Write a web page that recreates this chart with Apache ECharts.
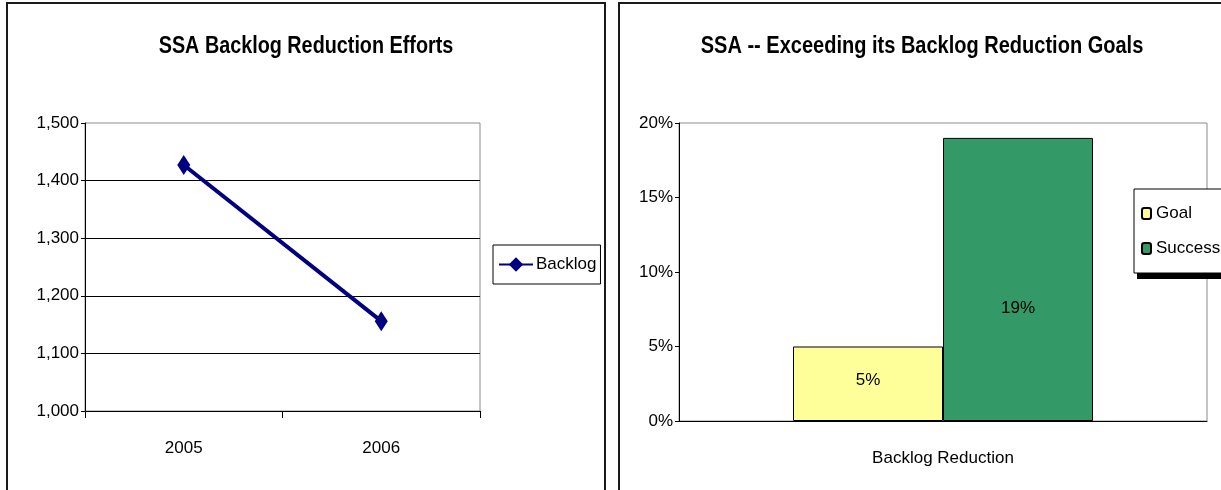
<!DOCTYPE html>
<html>
<head>
<meta charset="utf-8">
<script src="https://cdn.jsdelivr.net/npm/echarts@6/dist/echarts.min.js"></script>
<style>
  html, body { margin: 0; padding: 0; background: #fff; overflow: hidden; }
  #main { width: 1221px; height: 490px; }
</style>
</head>
<body>
<div id="main"></div>
<script>
// left chart: backlog line
var years = ['2005', '2006'];
var backlog = [1427, 1156];
// right chart: goal vs success
var reductionCats = ['Backlog Reduction'];
var goal = [5];
var success = [19];

var font = "'Liberation Sans Narrow', 'Arial Narrow', 'Liberation Sans', sans-serif";

var main = document.getElementById('main');
var myChart = echarts.init(main);

var option = {
    animation: false,
    textStyle: { fontFamily: font, color: '#000' },
    graphic: [
        { type: 'rect', shape: { x: 7, y: 3, width: 598, height: 520 }, style: { fill: 'none', stroke: '#1a1a1a', lineWidth: 2 } },
        { type: 'rect', shape: { x: 619, y: 3, width: 610, height: 520 }, style: { fill: 'none', stroke: '#1a1a1a', lineWidth: 2 } },
        // legend drop shadow (right chart)
        { type: 'rect', shape: { x: 1137, y: 200, width: 100, height: 79 }, style: { fill: '#000' } },
        { type: 'text', x: 306, y: 47, scaleX: 0.86, style: { text: 'SSA Backlog Reduction Efforts', font: 'bold 23px ' + font, fill: '#000', align: 'center', verticalAlign: 'middle' } },
        { type: 'text', x: 922, y: 47, scaleX: 0.87, style: { text: 'SSA -- Exceeding its Backlog Reduction Goals', font: 'bold 23px ' + font, fill: '#000', align: 'center', verticalAlign: 'middle' } }
    ],
    legend: [
        {
            data: ['Backlog'],
            left: 493, top: 245,
            padding: [11, 4, 11, 5],
            itemWidth: 34, itemHeight: 18,
            itemGap: 4,
            borderColor: '#000', borderWidth: 1,
            backgroundColor: '#fff',
            textStyle: { fontSize: 17, fontFamily: font, color: '#000', padding: [0, 0, 0, -2] }
        },
        {
            data: ['Goal', 'Success'],
            orient: 'vertical',
            left: 1134, top: 189,
            padding: [16, 30, 16, 7],
            itemWidth: 9, itemHeight: 11,
            itemGap: 18,
            borderColor: '#000', borderWidth: 1,
            backgroundColor: '#fff',
            textStyle: { fontSize: 17, fontFamily: font, color: '#000' }
        }
    ],
    grid: [
        { left: 85, top: 123, width: 395, height: 288, show: true, borderColor: '#8c8c8c', borderWidth: 1, backgroundColor: 'transparent' },
        { left: 679, top: 123, width: 528, height: 298, show: true, borderColor: '#8c8c8c', borderWidth: 1, backgroundColor: 'transparent' }
    ],
    xAxis: [
        {
            gridIndex: 0, type: 'category', data: years,
            axisLine: { lineStyle: { color: '#000', width: 1 } },
            axisTick: { show: true, length: 7, lineStyle: { color: '#000' } },
            axisLabel: { fontSize: 17, color: '#000', margin: 29 }
        },
        {
            gridIndex: 1, type: 'category', data: reductionCats,
            axisLine: { lineStyle: { color: '#000', width: 1 } },
            axisTick: { show: false },
            axisLabel: { fontSize: 17, color: '#000', margin: 29 }
        }
    ],
    yAxis: [
        {
            gridIndex: 0, type: 'value', min: 1000, max: 1500, interval: 100,
            axisLine: { show: true, lineStyle: { color: '#000' } },
            axisTick: { show: true, length: 4, lineStyle: { color: '#000' } },
            axisLabel: {
                fontSize: 17, color: '#000', margin: 6,
                formatter: function (v) { return v.toLocaleString('en-US'); }
            },
            splitLine: { show: true, showMaxLine: false, showMinLine: false, lineStyle: { color: '#000', width: 1 } }
        },
        {
            gridIndex: 1, type: 'value', min: 0, max: 20, interval: 5,
            axisLine: { show: true, lineStyle: { color: '#000' } },
            axisTick: { show: true, length: 4, lineStyle: { color: '#000' } },
            axisLabel: { fontSize: 17, color: '#000', margin: 6, formatter: '{value}%' },
            splitLine: { show: false }
        }
    ],
    series: [
        {
            name: 'Backlog', type: 'line', xAxisIndex: 0, yAxisIndex: 0,
            data: backlog,
            symbol: 'diamond', symbolSize: [13, 20],
            lineStyle: { color: '#000080', width: 4 },
            itemStyle: { color: '#000080' }
        },
        {
            name: 'Goal', type: 'bar', xAxisIndex: 1, yAxisIndex: 1,
            data: goal, barWidth: 150, barGap: '0%',
            itemStyle: { color: '#ffff99', borderColor: '#000', borderWidth: 1 },
            label: { show: true, position: 'inside', offset: [0, -3], formatter: '{c}%', fontSize: 17, color: '#000', fontFamily: font }
        },
        {
            name: 'Success', type: 'bar', xAxisIndex: 1, yAxisIndex: 1,
            data: success, barWidth: 150, barGap: '0%',
            itemStyle: { color: '#339966', borderColor: '#000', borderWidth: 1 },
            label: { show: true, position: 'inside', offset: [0, 29], formatter: '{c}%', fontSize: 17, color: '#000', fontFamily: font }
        }
    ]
};

myChart.setOption(option);
</script>
</body>
</html>
